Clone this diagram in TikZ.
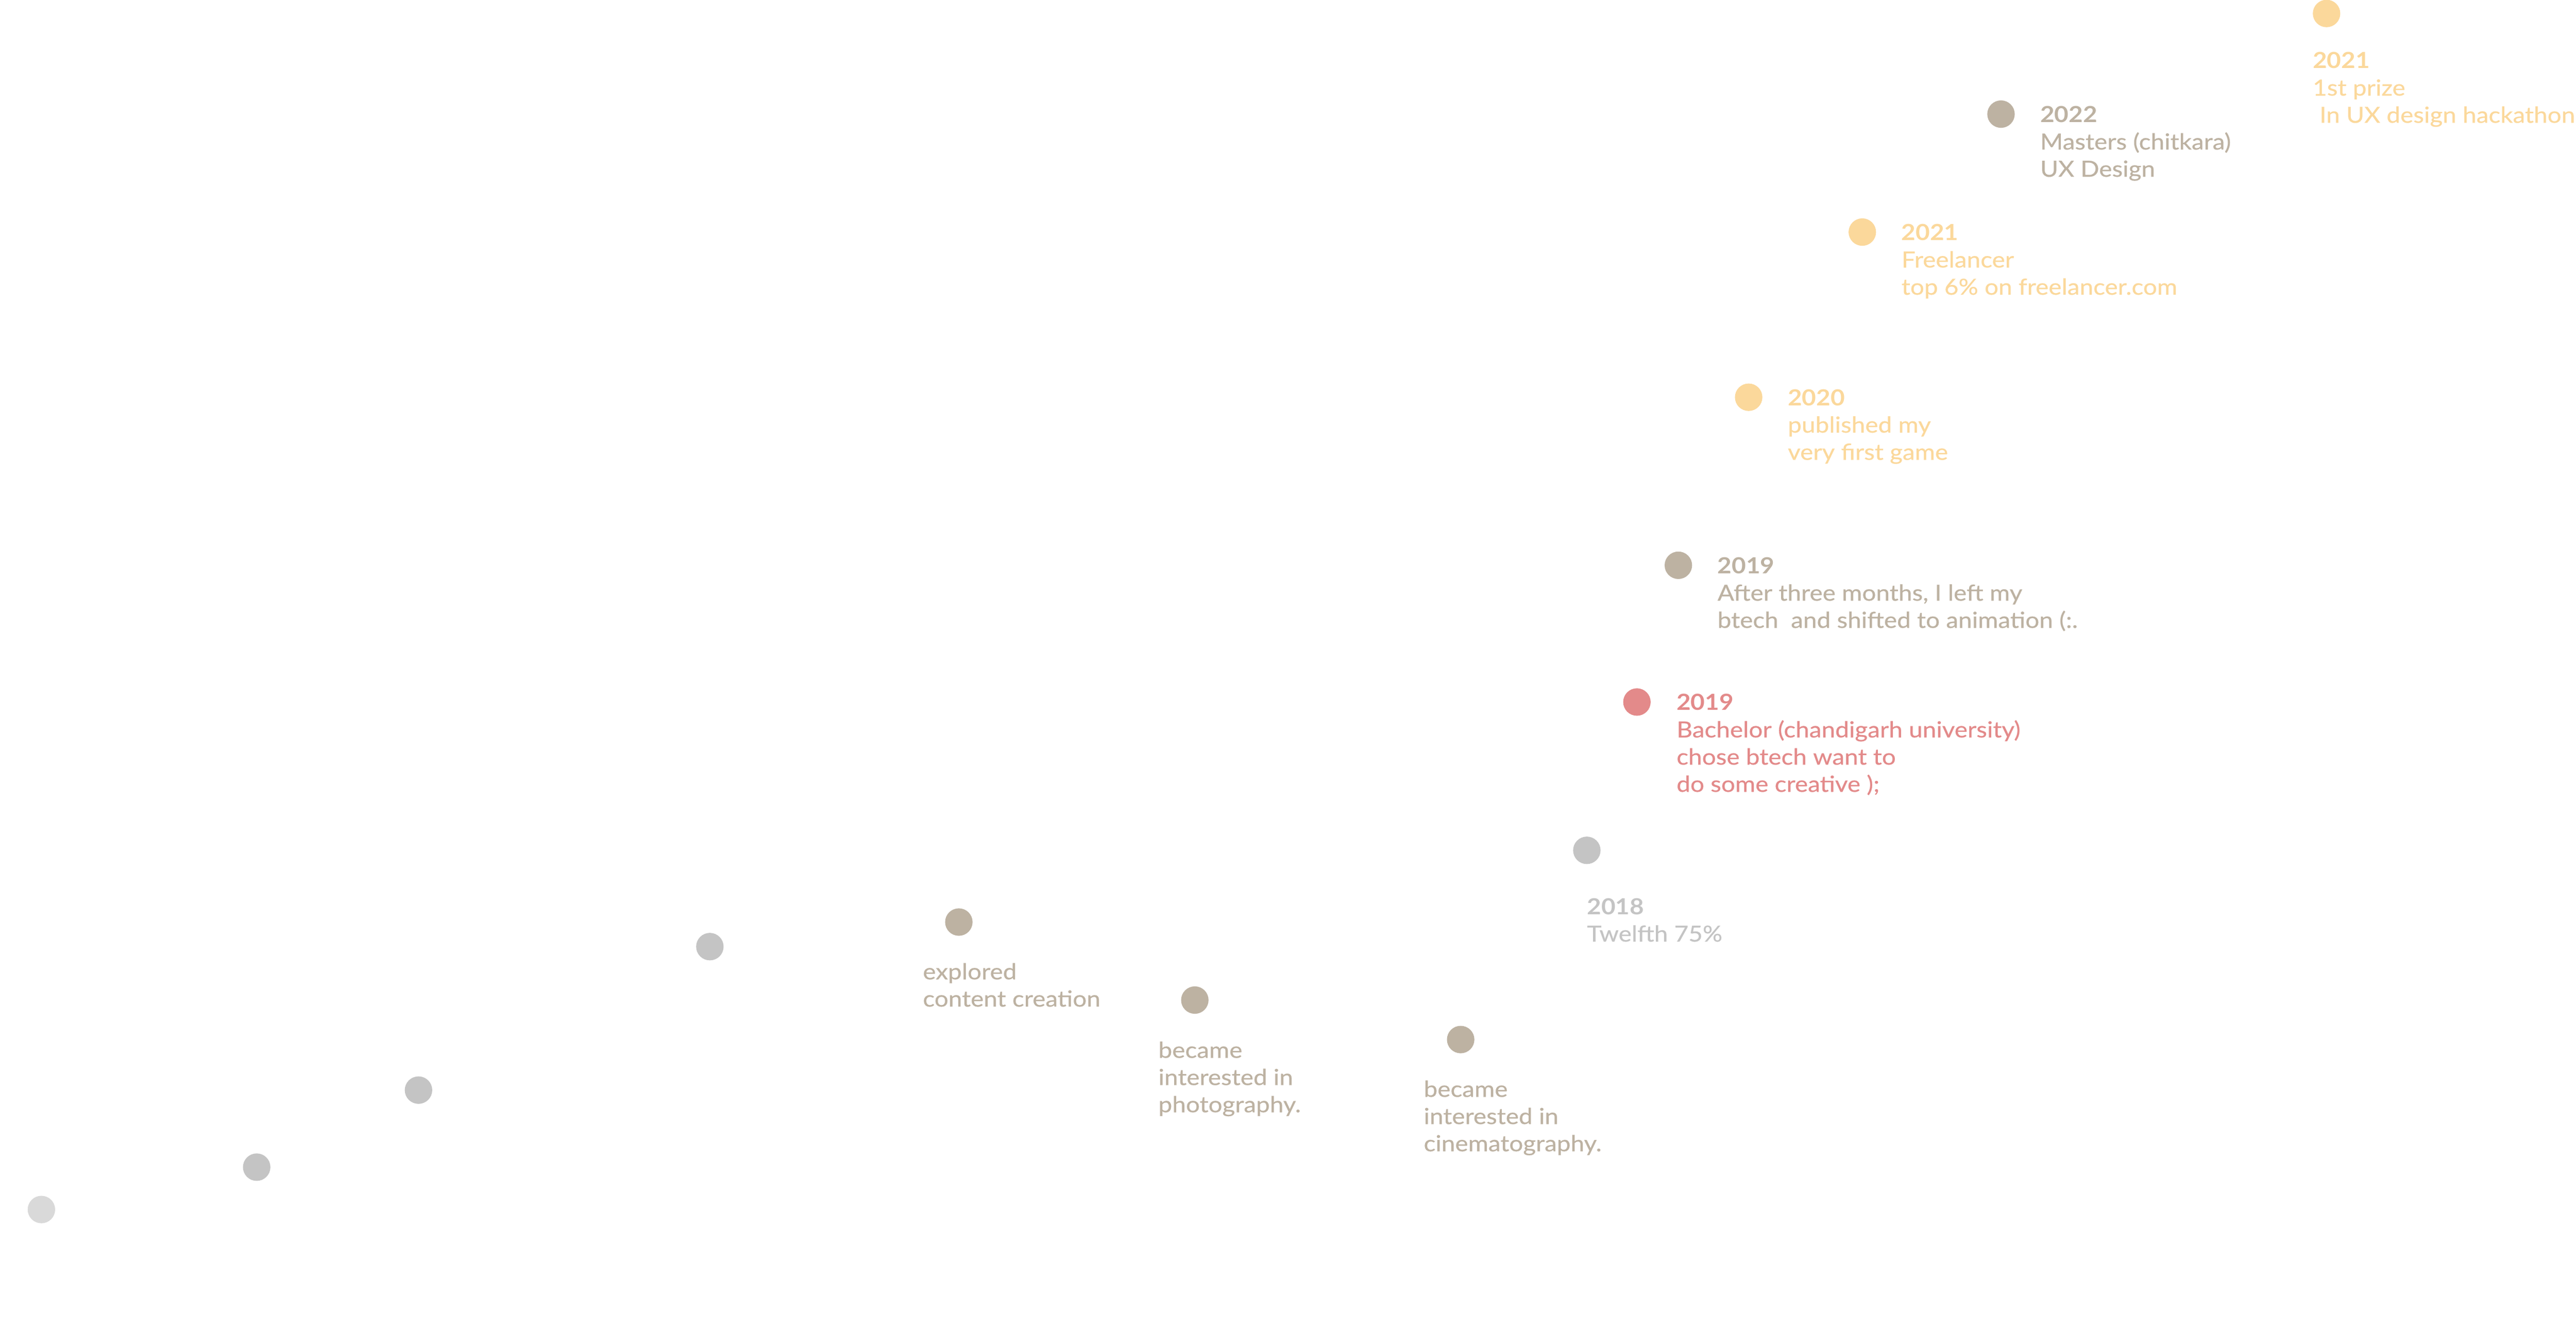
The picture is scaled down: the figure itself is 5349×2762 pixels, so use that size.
\documentclass[tikz,border=0pt]{standalone}
\usepackage{fontspec}
\setmainfont{Lato}[FakeStretch=1.11, UprightFeatures={FakeBold=0.5}]
\definecolor{taupe}{HTML}{BDB2A2}
\definecolor{sun}{HTML}{FBD89B}
\definecolor{rose}{HTML}{E38A8A}
\definecolor{grayd}{HTML}{C4C4C4}
\definecolor{grayl}{HTML}{D9D9D9}
\tikzset{
  dot/.style={circle, fill=#1, draw=none, minimum size=28.5pt, inner sep=0pt},
  lbl/.style={anchor=base west, inner sep=0pt, text=#1,
    font=\fontsize{23}{28.25}\selectfont},
}
\newcommand{\entry}[1]{\begin{tabular}[t]{@{}l@{}}#1\end{tabular}}
\begin{document}
\begin{tikzpicture}[x=0.5pt,y=-0.5pt]
\useasboundingbox[fill=white] (0,0) rectangle (5349,2762);
% dots
\node[dot=sun]   (d1)  at (4831,28) {};
\node[dot=taupe] (d2)  at (4155,237) {};
\node[dot=sun]   (d3)  at (3867,482) {};
\node[dot=sun]   (d4)  at (3631,825) {};
\node[dot=taupe] (d5)  at (3485,1174) {};
\node[dot=rose]  (d6)  at (3399,1458) {};
\node[dot=grayd] (d7)  at (3295,1766) {};
\node[dot=taupe] (d8)  at (1991,1915) {};
\node[dot=taupe] (d9)  at (2481,2077) {};
\node[dot=taupe] (d10) at (3033,2159) {};
\node[dot=grayd] (d11) at (1474,1966) {};
\node[dot=grayd] (d12) at (869,2264) {};
\node[dot=grayd] (d13) at (533,2424) {};
\node[dot=grayl] (d14) at (86,2512) {};
% labels
\node[lbl=sun] (t1) at (4802,142) {\entry{\textbf{2021}\\1st prize\\\hspace*{7pt}In UX design hackathon}};
\node[lbl=taupe] (t2) at (4236,254) {\entry{\textbf{2022}\\Masters (chitkara)\\UX Design}};
\node[lbl=sun] (t3) at (3948,499) {\entry{\textbf{2021}\\Freelancer\\top 6\% on freelancer.com}};
\node[lbl=sun] (t4) at (3712,842) {\entry{\textbf{2020}\\published my\\very first game}};
\node[lbl=taupe] (t5) at (3566,1191) {\entry{\textbf{2019}\\After three months, I left my\\btech\ \ and shifted to animation (:.}};
\node[lbl=rose] (t6) at (3481,1475) {\entry{\textbf{2019}\\Bachelor (chandigarh university)\\chose btech want to\\do some creative );}};
\node[lbl=grayd] (t7) at (3295,1899) {\entry{\textbf{2018}\\Twelfth 75\%}};
\node[lbl=taupe] (t8) at (1916,2034) {\entry{explored\\content creation}};
\node[lbl=taupe] (t9) at (2405,2197) {\entry{became\\interested in\\photography.}};
\node[lbl=taupe] (t10) at (2956,2278) {\entry{became\\interested in\\cinematography.}};
\end{tikzpicture}
\end{document}
